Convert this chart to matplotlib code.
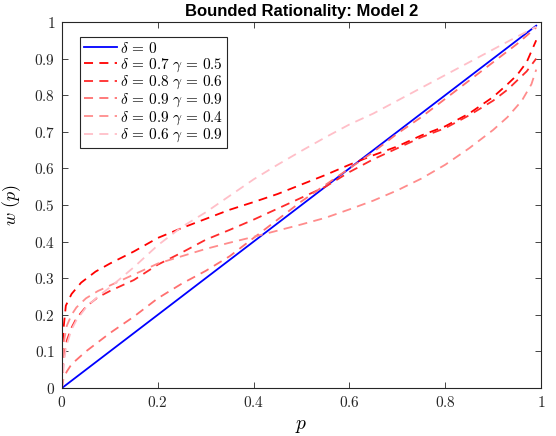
import matplotlib
matplotlib.use("Agg")
import matplotlib.pyplot as plt
import numpy as np

plt.rcParams['mathtext.fontset'] = 'cm'
plt.rcParams['font.family'] = ['DejaVu Sans']

# ---- data ----
p_diag = [0.0, 0.99]
w_diag = [0.0, 0.99]

p_c1 = [0, 0.003, 0.008, 0.02, 0.04, 0.07, 0.1, 0.15, 0.2, 0.25, 0.3, 0.35, 0.4, 0.45, 0.5,
        0.55, 0.6, 0.65, 0.7, 0.75, 0.8, 0.85, 0.9, 0.93, 0.95, 0.97, 0.99]
w_c1 = [0, 0.16, 0.225, 0.257, 0.288, 0.318, 0.34, 0.373, 0.41, 0.437, 0.462, 0.487, 0.508, 0.53, 0.556,
        0.582, 0.61, 0.636, 0.66, 0.69, 0.715, 0.75, 0.795, 0.83, 0.855, 0.89, 0.95]

p_c2 = [0, 0.003, 0.01, 0.02, 0.03, 0.05, 0.075, 0.1, 0.15, 0.2, 0.25, 0.3, 0.35, 0.4, 0.45, 0.5,
        0.55, 0.6, 0.65, 0.7, 0.75, 0.8, 0.85, 0.9, 0.93, 0.95, 0.97, 0.99]
w_c2 = [0, 0.08, 0.13, 0.165, 0.19, 0.222, 0.248, 0.265, 0.295, 0.337, 0.37, 0.405, 0.432, 0.46, 0.49, 0.52,
        0.55, 0.59, 0.625, 0.655, 0.685, 0.71, 0.745, 0.785, 0.815, 0.84, 0.865, 0.90]

p_c3 = [0, 0.003, 0.01, 0.02, 0.05, 0.1, 0.15, 0.2, 0.25, 0.3, 0.35, 0.4, 0.45, 0.5,
        0.55, 0.6, 0.65, 0.7, 0.75, 0.8, 0.85, 0.9, 0.95, 0.99]
w_c3 = [0, 0.025, 0.045, 0.065, 0.1, 0.15, 0.195, 0.245, 0.285, 0.32, 0.36, 0.41, 0.46, 0.51,
        0.555, 0.6, 0.645, 0.695, 0.74, 0.79, 0.84, 0.89, 0.94, 0.985]

p_c4 = [0, 0.003, 0.01, 0.02, 0.03, 0.05, 0.075, 0.1, 0.15, 0.2, 0.25, 0.3, 0.35, 0.4, 0.45, 0.5,
        0.55, 0.6, 0.65, 0.7, 0.75, 0.8, 0.85, 0.9, 0.93, 0.96, 0.98, 0.99]
w_c4 = [0, 0.12, 0.17, 0.2, 0.22, 0.245, 0.265, 0.28, 0.31, 0.34, 0.36, 0.38, 0.397, 0.413, 0.43, 0.447,
        0.465, 0.488, 0.512, 0.54, 0.572, 0.61, 0.655, 0.705, 0.74, 0.785, 0.83, 0.87]

p_c5 = [0, 0.003, 0.008, 0.02, 0.03, 0.05, 0.075, 0.1, 0.15, 0.2, 0.25, 0.3, 0.35, 0.4, 0.45, 0.5,
        0.55, 0.6, 0.65, 0.7, 0.75, 0.8, 0.85, 0.9, 0.95, 0.99]
w_c5 = [0, 0.05, 0.11, 0.16, 0.185, 0.22, 0.25, 0.275, 0.33, 0.39, 0.44, 0.48, 0.525, 0.57, 0.61, 0.648,
        0.685, 0.72, 0.75, 0.785, 0.82, 0.855, 0.89, 0.925, 0.96, 0.987]

labels = [r'$\delta\,=\,0$',
          r'$\delta\,=\,0.7\ \gamma\,=\,0.5$',
          r'$\delta\,=\,0.8\ \gamma\,=\,0.6$',
          r'$\delta\,=\,0.9\ \gamma\,=\,0.9$',
          r'$\delta\,=\,0.9\ \gamma\,=\,0.4$',
          r'$\delta\,=\,0.6\ \gamma\,=\,0.9$']

xticks = [0, 0.2, 0.4, 0.6, 0.8, 1]
xticklabels = ['0', '0.2', '0.4', '0.6', '0.8', '1']
yticks = [0, 0.1, 0.2, 0.3, 0.4, 0.5, 0.6, 0.7, 0.8, 0.9, 1]
yticklabels = ['0', '0.1', '0.2', '0.3', '0.4', '0.5', '0.6', '0.7', '0.8', '0.9', '1']

fig = plt.figure(figsize=(5.56, 4.36), dpi=100)
ax = fig.add_axes([62/556, 1-388/436, 479/556, 366/436])

dash = (0, (5, 3.5))
ax.plot(p_diag, w_diag, color='#0000ff', lw=1.3, label=labels[0])
ax.plot(p_c1, w_c1, color='#ff0000', lw=1.3, linestyle=dash, label=labels[1])
ax.plot(p_c2, w_c2, color='#ff2a2a', lw=1.3, linestyle=dash, label=labels[2])
ax.plot(p_c3, w_c3, color='#ff7070', lw=1.3, linestyle=dash, label=labels[3])
ax.plot(p_c4, w_c4, color='#ff8c8c', lw=1.3, linestyle=dash, label=labels[4])
ax.plot(p_c5, w_c5, color='#ffbfc8', lw=1.3, linestyle=dash, label=labels[5])

ax.set_xlim(0, 1)
ax.set_ylim(0, 1)
ax.set_xticks(xticks)
ax.set_xticklabels(['$' + t + '$' for t in xticklabels])
ax.set_yticks(yticks)
ax.set_yticklabels(['$' + t + '$' for t in yticklabels])
ax.tick_params(direction='in', top=True, right=True, length=4, width=0.6,
               labelsize=11, colors='#262626', pad=5)
for s in ax.spines.values():
    s.set_color('#262626')
    s.set_linewidth(0.8)

ax.set_xlabel(r'$p$', fontsize=14, labelpad=4)
ax.set_ylabel(r'$w\ (p)$', fontsize=13, labelpad=8)
ax.set_title('Bounded Rationality: Model 2', fontsize=12, fontweight='bold',
             family='Liberation Sans', pad=4)

leg = ax.legend(loc='upper left', bbox_to_anchor=(18/479, 1-15/366), borderaxespad=0,
                fontsize=11, handlelength=2.2, handletextpad=0.15, labelspacing=0.02,
                fancybox=False, framealpha=1, edgecolor='#262626', borderpad=0.25)
leg.get_frame().set_linewidth(0.8)

fig.savefig('out.png', dpi=100)
